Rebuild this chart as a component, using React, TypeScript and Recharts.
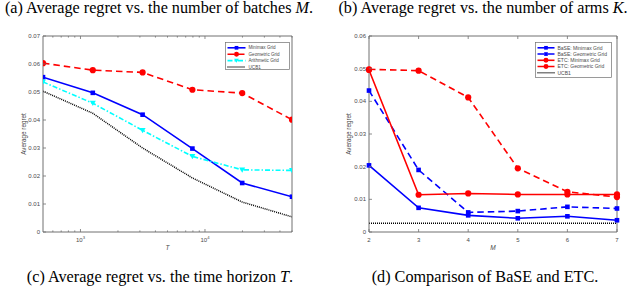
import React from 'react';
import { LineChart, Line, XAxis, YAxis, Legend, Label } from 'recharts';

// ---------- data: left chart (regret vs horizon T) ----------
const horizonT = [500, 1256, 3155, 7924, 19905, 50000];
const minimaxGrid = [0.0553, 0.0497, 0.0419, 0.0298, 0.0175, 0.0126];
const geometricGrid = [0.0603, 0.0578, 0.057, 0.0508, 0.0496, 0.0401];
const arithmeticGrid = [0.0536, 0.046, 0.0363, 0.027, 0.0222, 0.022];
const ucb1ByT = [0.0503, 0.0424, 0.03, 0.0193, 0.0107, 0.0054];

// ---------- data: right chart (BaSE vs ETC over M) ----------
const batchesM = [2, 3, 4, 5, 6, 7];
const baseMinimax = [0.0204, 0.0074, 0.0051, 0.0042, 0.0048, 0.0036];
const baseGeometric = [0.0433, 0.019, 0.006, 0.0064, 0.0077, 0.0072];
const etcMinimax = [0.0496, 0.0114, 0.0118, 0.0115, 0.0115, 0.0115];
const etcGeometric = [0.0498, 0.0494, 0.0412, 0.0195, 0.0123, 0.0107];
const ucb1ByM = [0.0027, 0.0027, 0.0027, 0.0027, 0.0027, 0.0027];

// ---------- ticks ----------
const leftYTicks = [0, 0.01, 0.02, 0.03, 0.04, 0.05, 0.06, 0.07];
const rightYTicks = [0, 0.01, 0.02, 0.03, 0.04, 0.05, 0.06];
const logMajorTicks = [1000, 10000];
const logAllTicks = [600, 700, 800, 900, 1000, 2000, 3000, 4000, 5000, 6000, 7000, 8000, 9000, 10000, 20000, 30000, 40000, 50000];
const mTicks = [2, 3, 4, 5, 6, 7];

const leftRows = horizonT.map((t, i) => ({
  T: t,
  minimax: minimaxGrid[i],
  geometric: geometricGrid[i],
  arithmetic: arithmeticGrid[i],
  ucb1: ucb1ByT[i],
}));

const rightRows = batchesM.map((m, i) => ({
  M: m,
  baseMinimax: baseMinimax[i],
  baseGeometric: baseGeometric[i],
  etcMinimax: etcMinimax[i],
  etcGeometric: etcGeometric[i],
  ucb1: ucb1ByM[i],
}));

type Shape = 'square' | 'circle' | 'triangle' | 'none';
type Series = { key: string; name: string; color: string; dash?: string; width: number; marker: Shape };

const leftSeries: Series[] = [
  { key: 'minimax', name: 'Minimax Grid', color: '#0000ff', width: 1.6, marker: 'square' },
  { key: 'geometric', name: 'Geometric Grid', color: '#ff0000', dash: '6.5 4', width: 1.6, marker: 'circle' },
  { key: 'arithmetic', name: 'Arithmetic Grid', color: '#00ffff', dash: '5 2 1.5 2', width: 1.6, marker: 'triangle' },
  { key: 'ucb1', name: 'UCB1', color: '#000000', dash: '1 1', width: 1.5, marker: 'none' },
];

const rightSeries: Series[] = [
  { key: 'baseMinimax', name: 'BaSE: Minimax Grid', color: '#0000ff', width: 1.6, marker: 'square' },
  { key: 'baseGeometric', name: 'BaSE: Geometric Grid', color: '#0000ff', dash: '6.5 4', width: 1.6, marker: 'square' },
  { key: 'etcMinimax', name: 'ETC: Minimax Grid', color: '#ff0000', width: 1.6, marker: 'circle' },
  { key: 'etcGeometric', name: 'ETC: Geometric Grid', color: '#ff0000', dash: '6.5 4', width: 1.6, marker: 'circle' },
  { key: 'ucb1', name: 'UCB1', color: '#000000', dash: '1 1', width: 1.5, marker: 'none' },
];

const SANS = '"Liberation Sans", Arial, sans-serif';
const SERIF = '"Liberation Serif", "Times New Roman", serif';
const AXIS_COLOR = '#707070';
const TEXT_COLOR = '#4a4a4a';
const FS = 6;

function MarkerShape({ cx, cy, shape, color, k = 1 }: { cx: number; cy: number; shape: Shape; color: string; k?: number }) {
  if (cx == null || cy == null || isNaN(cx) || isNaN(cy)) return null;
  if (shape === 'square') {
    const s = 2.3 * k;
    return <rect x={cx - s} y={cy - s} width={2 * s} height={2 * s} fill={color} />;
  }
  if (shape === 'circle') return <circle cx={cx} cy={cy} r={3.1 * k} fill={color} />;
  if (shape === 'triangle') {
    const w = 3 * k;
    return <polygon points={`${cx - w},${cy - 2.4 * k} ${cx + w},${cy - 2.4 * k} ${cx},${cy + 2.8 * k}`} fill={color} />;
  }
  return null;
}

type Orient = 'bottom' | 'top' | 'left' | 'right';
function makeTick(orient: Orient, opts: { majors?: number[]; labels?: boolean; log?: boolean }) {
  return (props: any) => {
    const { x, y, payload } = props;
    const v = payload.value as number;
    const isMajor = !opts.majors || opts.majors.includes(v);
    const len = isMajor ? 3 : 1.6;
    let line: React.ReactNode = null;
    let label: React.ReactNode = null;
    if (orient === 'bottom') {
      line = <line x1={x} y1={y} x2={x} y2={y - len} stroke={AXIS_COLOR} strokeWidth={0.8} />;
      if (opts.labels && isMajor) {
        if (opts.log) {
          const exp = Math.round(Math.log10(v));
          label = (
            <text x={x} y={y + 10} textAnchor="middle" fontSize={FS} fill={TEXT_COLOR} fontFamily={SANS}>
              <tspan>10</tspan>
              <tspan dy={-2.6} fontSize={4.2}>{exp}</tspan>
            </text>
          );
        } else {
          label = (
            <text x={x} y={y + 9.5} textAnchor="middle" fontSize={FS} fill={TEXT_COLOR} fontFamily={SANS}>
              {v}
            </text>
          );
        }
      }
    } else if (orient === 'top') {
      line = <line x1={x} y1={y} x2={x} y2={y + len} stroke={AXIS_COLOR} strokeWidth={0.8} />;
    } else if (orient === 'left') {
      line = <line x1={x} y1={y} x2={x + len} y2={y} stroke={AXIS_COLOR} strokeWidth={0.8} />;
      if (opts.labels) {
        label = (
          <text x={x - 3} y={y + 2.1} textAnchor="end" fontSize={FS} fill={TEXT_COLOR} fontFamily={SANS}>
            {v === 0 ? '0' : v.toFixed(2)}
          </text>
        );
      }
    } else {
      line = <line x1={x} y1={y} x2={x - len} y2={y} stroke={AXIS_COLOR} strokeWidth={0.8} />;
    }
    return (
      <g>
        {line}
        {label}
      </g>
    );
  };
}

function LegendBox({ series, width, height, rowH, fontSize, sampleW }: { series: Series[]; width: number; height: number; rowH: number; fontSize: number; sampleW: number }) {
  return (
    <svg width={width} height={height} style={{ display: 'block' }}>
      <rect x={0.5} y={0.5} width={width - 1} height={height - 1} fill="#ffffff" stroke={AXIS_COLOR} strokeWidth={0.7} />
      {series.map((s, i) => {
        const cy = 5.8 + i * rowH;
        return (
          <g key={s.key}>
            <line x1={2.5} y1={cy} x2={2.5 + sampleW} y2={cy} stroke={s.color} strokeWidth={s.width} strokeDasharray={s.dash} />
            <MarkerShape cx={2.5 + sampleW / 2} cy={cy} shape={s.marker} color={s.color} k={0.8} />
            <text x={sampleW + 5.5} y={cy + fontSize * 0.36} fontSize={fontSize} fill={TEXT_COLOR} fontFamily={SANS}>
              {s.name}
            </text>
          </g>
        );
      })}
    </svg>
  );
}

function renderLines(series: Series[]) {
  return series.map((s) => (
    <Line
      key={s.key}
      xAxisId="b"
      yAxisId="l"
      type="linear"
      dataKey={s.key}
      name={s.name}
      stroke={s.color}
      strokeWidth={s.width}
      strokeDasharray={s.dash}
      isAnimationActive={false}
      activeDot={false}
      dot={
        s.marker === 'none'
          ? false
          : (p: any) => <MarkerShape key={`${s.key}-${p.index}`} cx={p.cx} cy={p.cy} shape={s.marker} color={s.color} />
      }
    />
  ));
}

function LeftChart() {
  return (
    <LineChart width={320} height={260} data={leftRows} margin={{ top: 35, right: 27, bottom: 4, left: 8 }}>
      <XAxis
        xAxisId="b"
        dataKey="T"
        type="number"
        scale="log"
        domain={[500, 50000]}
        allowDataOverflow
        ticks={logAllTicks}
        interval={0}
        height={24}
        tickSize={0}
        tickMargin={0}
        tickLine={false}
        axisLine={{ stroke: AXIS_COLOR, strokeWidth: 1 }}
        tick={makeTick('bottom', { majors: logMajorTicks, labels: true, log: true })}
      >
        <Label value="T" position="insideBottom" offset={6} style={{ fontSize: 6.5, fill: TEXT_COLOR, fontFamily: SANS, fontStyle: 'italic' }} />
      </XAxis>
      <XAxis
        xAxisId="t"
        orientation="top"
        dataKey="T"
        type="number"
        scale="log"
        domain={[500, 50000]}
        allowDataOverflow
        ticks={logAllTicks}
        interval={0}
        height={1}
        tickSize={0}
        tickMargin={0}
        tickLine={false}
        axisLine={{ stroke: AXIS_COLOR, strokeWidth: 1 }}
        tick={makeTick('top', { majors: logMajorTicks })}
      />
      <YAxis
        yAxisId="l"
        type="number"
        domain={[0, 0.07]}
        ticks={leftYTicks}
        interval={0}
        width={35}
        tickSize={0}
        tickMargin={0}
        tickLine={false}
        axisLine={{ stroke: AXIS_COLOR, strokeWidth: 1 }}
        tick={makeTick('left', { labels: true })}
      >
        <Label value="Average regret" angle={-90} position="insideLeft" offset={16} style={{ textAnchor: 'middle', fontSize: 6.3, fill: TEXT_COLOR, fontFamily: SANS }} />
      </YAxis>
      <YAxis
        yAxisId="r"
        orientation="right"
        type="number"
        domain={[0, 0.07]}
        ticks={leftYTicks}
        interval={0}
        width={1}
        tickSize={0}
        tickMargin={0}
        tickLine={false}
        axisLine={{ stroke: AXIS_COLOR, strokeWidth: 1 }}
        tick={makeTick('right', {})}
      />
      {renderLines(leftSeries)}
      <Legend
        layout="horizontal"
        verticalAlign="middle"
        align="center"
        wrapperStyle={{ position: 'absolute', left: 225, top: 42, width: 65, height: 28, margin: 0, padding: 0 }}
        content={() => <LegendBox series={leftSeries} width={65} height={28} rowH={6.4} fontSize={4.6} sampleW={18} />}
      />
    </LineChart>
  );
}

function RightChart() {
  return (
    <LineChart width={320} height={260} data={rightRows} margin={{ top: 35, right: 22, bottom: 4, left: 8 }}>
      <XAxis
        xAxisId="b"
        dataKey="M"
        type="number"
        domain={[2, 7]}
        ticks={mTicks}
        interval={0}
        height={24}
        tickSize={0}
        tickMargin={0}
        tickLine={false}
        axisLine={{ stroke: AXIS_COLOR, strokeWidth: 1 }}
        tick={makeTick('bottom', { labels: true })}
      >
        <Label value="M" position="insideBottom" offset={6} style={{ fontSize: 6.5, fill: TEXT_COLOR, fontFamily: SANS, fontStyle: 'italic' }} />
      </XAxis>
      <XAxis
        xAxisId="t"
        orientation="top"
        dataKey="M"
        type="number"
        domain={[2, 7]}
        ticks={mTicks}
        interval={0}
        height={1}
        tickSize={0}
        tickMargin={0}
        tickLine={false}
        axisLine={{ stroke: AXIS_COLOR, strokeWidth: 1 }}
        tick={makeTick('top', {})}
      />
      <YAxis
        yAxisId="l"
        type="number"
        domain={[0, 0.06]}
        ticks={rightYTicks}
        interval={0}
        width={41}
        tickSize={0}
        tickMargin={0}
        tickLine={false}
        axisLine={{ stroke: AXIS_COLOR, strokeWidth: 1 }}
        tick={makeTick('left', { labels: true })}
      >
        <Label value="Average regret" angle={-90} position="insideLeft" offset={21} style={{ textAnchor: 'middle', fontSize: 6.3, fill: TEXT_COLOR, fontFamily: SANS }} />
      </YAxis>
      <YAxis
        yAxisId="r"
        orientation="right"
        type="number"
        domain={[0, 0.06]}
        ticks={rightYTicks}
        interval={0}
        width={1}
        tickSize={0}
        tickMargin={0}
        tickLine={false}
        axisLine={{ stroke: AXIS_COLOR, strokeWidth: 1 }}
        tick={makeTick('right', {})}
      />
      {renderLines(rightSeries)}
      <Legend
        layout="horizontal"
        verticalAlign="middle"
        align="center"
        wrapperStyle={{ position: 'absolute', left: 215, top: 42, width: 77, height: 36, margin: 0, padding: 0 }}
        content={() => <LegendBox series={rightSeries} width={77} height={36} rowH={6.25} fontSize={5} sampleW={17} />}
      />
    </LineChart>
  );
}

const captionStyle: React.CSSProperties = {
  position: 'absolute',
  fontFamily: SERIF,
  fontSize: 16.2,
  lineHeight: '16.2px',
  whiteSpace: 'nowrap',
  color: '#000',
  transform: 'translateX(-50%)',
};

export default function App() {
  return (
    <div style={{ position: 'absolute', left: 0, top: 0, width: 640, height: 287, background: '#ffffff', overflow: 'hidden' }}>
      <div style={{ position: 'absolute', left: 0, top: 0 }}>
        <LeftChart />
      </div>
      <div style={{ position: 'absolute', left: 320, top: 0 }}>
        <RightChart />
      </div>
      <div style={{ ...captionStyle, left: 159, top: 0 }}>
        (a) Average regret vs. the number of batches <i>M</i>.
      </div>
      <div style={{ ...captionStyle, left: 483, top: 0 }}>
        (b) Average regret vs. the number of arms <i>K</i>.
      </div>
      <div style={{ ...captionStyle, left: 160, top: 268.5 }}>
        (c) Average regret vs. the time horizon <i>T</i>.
      </div>
      <div style={{ ...captionStyle, left: 485, top: 268.5 }}>
        (d) Comparison of BaSE and ETC.
      </div>
    </div>
  );
}
